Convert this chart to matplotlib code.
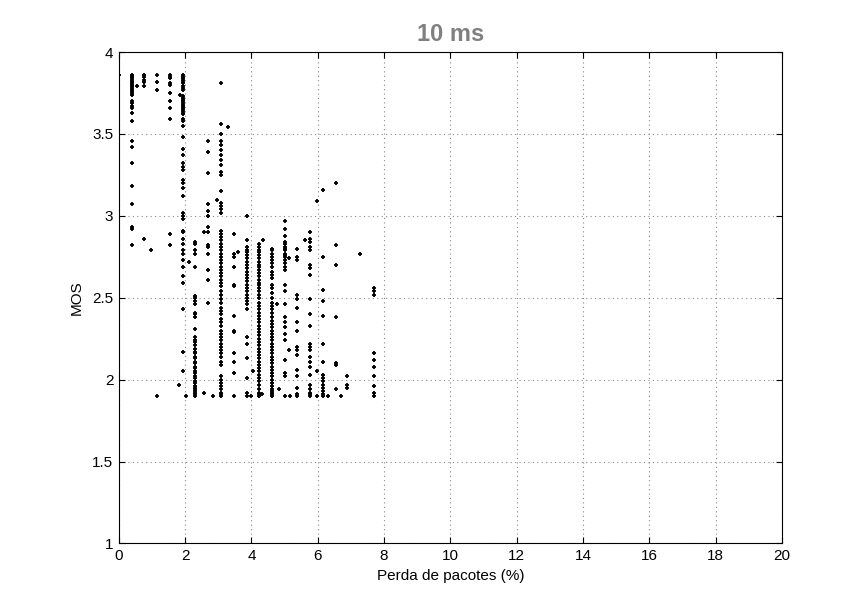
import matplotlib
matplotlib.use("Agg")
import matplotlib.pyplot as plt

# perda de pacotes (%) for each vertical column of points
perda_cols = [0.0, 0.385, 0.77, 1.15, 1.54, 1.92, 2.31, 2.69, 3.08, 3.46,
              3.85, 4.23, 4.62, 5.0, 5.38, 5.77, 6.15, 6.54, 7.69]

mos_c00 = [3.86]
mos_c01 = [3.86, 3.855, 3.85, 3.84, 3.83, 3.82, 3.81, 3.80, 3.79, 3.78, 3.77, 3.76,
           3.75, 3.74, 3.70, 3.69, 3.67, 3.66, 3.63, 3.58, 3.46, 3.42, 3.32, 3.18,
           3.07, 2.93, 2.92, 2.82]
mos_c02 = [3.86, 3.85, 3.83, 3.82, 3.79, 2.86]
mos_c03 = [3.86, 3.82, 3.77, 1.90]
mos_c04 = [3.86, 3.85, 3.84, 3.81, 3.80, 3.75, 3.70, 3.66, 3.59, 2.89, 2.82]
mos_c05 = [3.86, 3.85, 3.84, 3.83, 3.82, 3.81, 3.79, 3.78, 3.77, 3.73, 3.72, 3.71,
           3.70, 3.69, 3.68, 3.67, 3.66, 3.65, 3.64, 3.63, 3.62, 3.59, 3.58, 3.55,
           3.48, 3.41, 3.37, 3.32, 3.30, 3.28, 3.22, 3.20, 3.17, 3.12, 3.02, 3.00,
           2.98, 2.91, 2.90, 2.86, 2.83, 2.79, 2.77, 2.73, 2.69, 2.63, 2.59, 2.43,
           2.17, 2.05]
mos_c06 = [2.84, 2.83, 2.79, 2.77, 2.69, 2.51, 2.50, 2.48, 2.46, 2.41, 2.40, 2.38,
           2.31, 2.26, 2.24, 2.23, 2.21, 2.19, 2.17, 2.16, 2.14, 2.13, 2.11, 2.10,
           2.08, 2.07, 2.05, 2.04, 2.02, 2.01, 1.99, 1.98, 1.96, 1.95, 1.94, 1.93,
           1.92, 1.91, 1.90]
mos_c07 = [3.46, 3.39, 3.26, 3.07, 3.03, 3.00, 2.93, 2.90, 2.82, 2.81, 2.77, 2.67,
           2.61, 2.47]
mos_c08 = [3.81, 3.56, 3.50, 3.46, 3.43, 3.40, 3.37, 3.34, 3.31, 3.27, 3.25, 3.15,
           3.08, 3.06, 3.04, 3.02, 2.91, 2.89, 2.87, 2.85, 2.83, 2.81, 2.79, 2.77,
           2.75, 2.73, 2.71, 2.69, 2.67, 2.65, 2.63, 2.61, 2.59, 2.57, 2.54, 2.52,
           2.49, 2.47, 2.44, 2.42, 2.40, 2.37, 2.35, 2.33, 2.30, 2.28, 2.26, 2.24,
           2.22, 2.20, 2.18, 2.16, 2.14, 2.11, 2.09, 2.02, 2.00, 1.98, 1.96, 1.94,
           1.92, 1.91, 1.90]
mos_c09 = [2.89, 2.77, 2.75, 2.69, 2.58, 2.57, 2.39, 2.30, 2.29, 2.16, 2.11, 2.04,
           1.90]
mos_c10 = [3.00, 2.85, 2.81, 2.79, 2.78, 2.76, 2.74, 2.72, 2.70, 2.68, 2.66, 2.64,
           2.62, 2.60, 2.58, 2.56, 2.54, 2.52, 2.50, 2.48, 2.46, 2.43, 2.26, 2.22,
           2.13, 2.01, 1.92, 1.90]
mos_c11 = [2.83, 2.81, 2.79, 2.78, 2.76, 2.74, 2.72, 2.70, 2.69, 2.67, 2.65, 2.63,
           2.61, 2.59, 2.58, 2.56, 2.54, 2.52, 2.50, 2.47, 2.45, 2.43, 2.41, 2.39,
           2.37, 2.35, 2.33, 2.31, 2.29, 2.27, 2.25, 2.23, 2.21, 2.19, 2.17, 2.15,
           2.13, 2.11, 2.09, 2.07, 2.05, 2.03, 2.01, 1.99, 1.97, 1.94, 1.92, 1.91,
           1.90]
mos_c12 = [2.80, 2.79, 2.77, 2.75, 2.73, 2.71, 2.69, 2.66, 2.64, 2.62, 2.58, 2.56,
           2.53, 2.50, 2.47, 2.45, 2.43, 2.41, 2.38, 2.36, 2.34, 2.32, 2.30, 2.28,
           2.26, 2.24, 2.22, 2.20, 2.18, 2.16, 2.14, 2.12, 2.10, 2.08, 2.06, 2.04,
           2.02, 2.00, 1.98, 1.96, 1.94, 1.93, 1.92, 1.91, 1.90]
mos_c13 = [2.97, 2.92, 2.88, 2.84, 2.83, 2.81, 2.80, 2.79, 2.77, 2.76, 2.75, 2.73,
           2.71, 2.69, 2.67, 2.58, 2.54, 2.46, 2.38, 2.35, 2.32, 2.28, 2.24, 2.12,
           2.04, 2.02, 1.90]
mos_c14 = [2.80, 2.75, 2.73, 2.52, 2.49, 2.44, 2.35, 2.30, 2.20, 2.18, 2.15, 2.06,
           2.02, 1.95, 1.91, 1.90]
mos_c15 = [2.90, 2.86, 2.84, 2.81, 2.79, 2.70, 2.68, 2.64, 2.49, 2.40, 2.33, 2.22,
           2.20, 2.18, 2.14, 2.11, 2.08, 2.03, 1.97, 1.94, 1.92, 1.91, 1.90]
mos_c16 = [3.16, 2.75, 2.55, 2.48, 2.39, 2.22, 2.11, 2.03, 2.01, 1.99, 1.97, 1.95,
           1.93, 1.91, 1.90]
mos_c17 = [3.20, 2.82, 2.70, 2.38, 2.10, 2.09, 1.94]
mos_c18 = [2.56, 2.54, 2.52, 2.16, 2.12, 2.08, 2.02, 1.96, 1.92, 1.90]

# loose points between the columns
perda_extra = [0.55, 0.96, 1.80, 1.83, 2.04, 2.13, 2.57, 2.57, 2.84, 2.95, 3.28,
               3.60, 4.04, 4.00, 4.36, 4.32, 4.78, 4.82, 5.14, 5.14, 5.15, 5.60,
               5.98, 5.98, 5.98, 6.32, 6.69, 6.88, 6.88, 6.88, 7.27]
mos_extra = [3.79, 2.79, 1.97, 3.74, 1.90, 2.72, 1.92, 2.90, 1.90, 3.10, 3.54,
             2.78, 2.05, 1.90, 2.85, 1.91, 2.46, 1.94, 2.74, 2.18, 1.90, 2.85,
             3.09, 2.05, 1.90, 1.90, 1.90, 2.02, 1.97, 1.95, 2.77]

mos_cols = [mos_c00, mos_c01, mos_c02, mos_c03, mos_c04, mos_c05, mos_c06,
            mos_c07, mos_c08, mos_c09, mos_c10, mos_c11, mos_c12, mos_c13,
            mos_c14, mos_c15, mos_c16, mos_c17, mos_c18]

x = []
y = []
for px, ys in zip(perda_cols, mos_cols):
    for v in ys:
        x.append(px)
        y.append(v)
x += perda_extra
y += mos_extra

plt.rcParams['font.family'] = ['Liberation Sans', 'DejaVu Sans']

fig = plt.figure(figsize=(8.49, 5.92), dpi=100)
ax = fig.add_axes([0.140, 0.082, 0.781, 0.830])

ax.plot(x, y, linestyle='none', marker='+', markersize=3.3,
        markeredgewidth=1.3, color='black')

ax.set_xlim(0, 20)
ax.set_ylim(1, 4)
ax.set_xticks(range(0, 21, 2))
ax.set_yticks([1, 1.5, 2, 2.5, 3, 3.5, 4])
ax.set_yticklabels(['1', '1.5', '2', '2.5', '3', '3.5', '4'])
ax.tick_params(direction='in', top=True, right=True, labelsize=11, length=4,
               pad=4)
ax.grid(True, linestyle=(0, (1, 3)), color='#888888', linewidth=0.8)
for s in ax.spines.values():
    s.set_linewidth(0.8)

ax.set_xlabel("Perda de pacotes (%)", fontsize=11, labelpad=4)
ax.set_ylabel("MOS", fontsize=11, labelpad=6)
ax.set_title("10 ms", fontsize=17, fontweight='bold', color='#808080', pad=8)

fig.savefig('out.png', dpi=100)
